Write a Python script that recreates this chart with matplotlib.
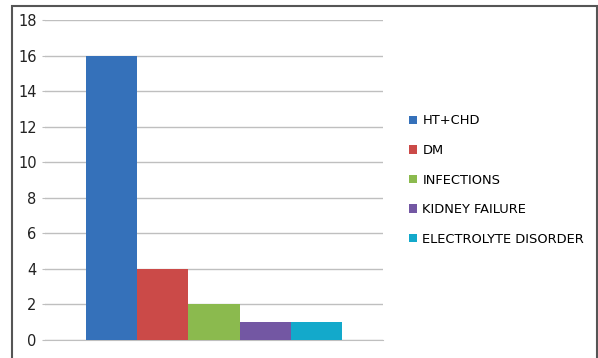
import matplotlib.pyplot as plt
import matplotlib.patches as patches

categories = ["HT+CHD", "DM", "INFECTIONS", "KIDNEY FAILURE", "ELECTROLYTE DISORDER"]
values = [16, 4, 2, 1, 1]
colors = ["#3571BA", "#CB4A48", "#8BBA4E", "#7357A3", "#13A9CB"]
yticks = [0, 2, 4, 6, 8, 10, 12, 14, 16, 18]

fig = plt.figure(figsize=(5.98, 3.58), dpi=100)
ax = fig.add_axes([0.0753, 0.0503, 0.5652, 0.894])

# one category, five series side by side
w = 0.1515
n = len(values)
for i, (lab, v, c) in enumerate(zip(categories, values, colors)):
    x = (i - (n - 1) / 2) * w
    ax.bar(x, v, width=w, color=c, label=lab, zorder=3)

ax.set_xlim(-0.5, 0.5)
ax.set_ylim(0, 18)
ax.set_yticks(yticks)
ax.set_xticks([])
ax.grid(axis="y", color="#BFBFBF", linewidth=1, zorder=0)
ax.tick_params(axis="y", length=2, color="#BFBFBF", labelsize=10.5, pad=4, labelcolor="#222222")
for s in ["top", "right", "left"]:
    ax.spines[s].set_visible(False)
ax.spines["bottom"].set_color("#BFBFBF")

ax.legend(loc="center left", bbox_to_anchor=(0.665, 0.497), bbox_transform=fig.transFigure,
          frameon=False, handlelength=0.6, handleheight=0.6, handletextpad=0.4,
          labelspacing=1.27, fontsize=9.4)

# outer chart border
fig.patches.append(patches.Rectangle((12 / 598, -0.05), 585 / 598, 1.05 - 6 / 358,
                                     transform=fig.transFigure, fill=False,
                                     edgecolor="#555555", linewidth=1.5))

fig.savefig("out.png", dpi=100)
